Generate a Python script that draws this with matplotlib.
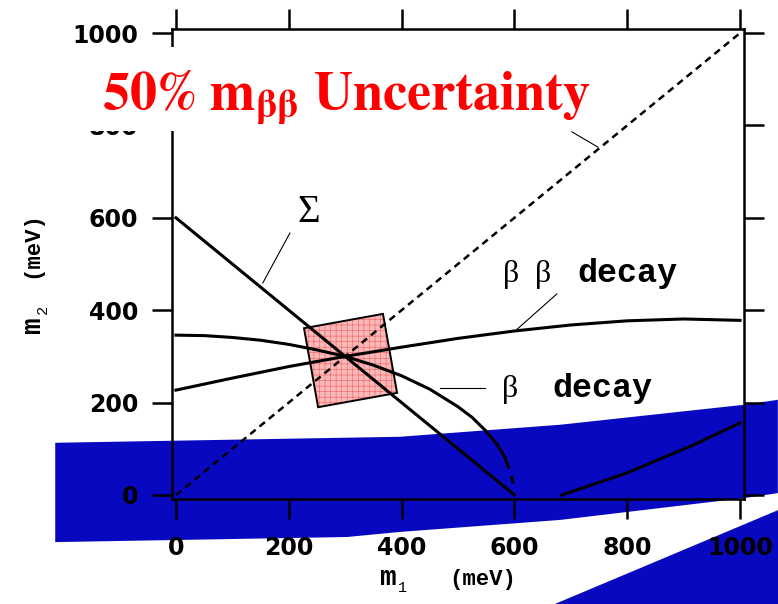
import matplotlib
matplotlib.use('Agg')
import matplotlib.pyplot as plt
from matplotlib.patches import Polygon, Rectangle

plt.rcParams['hatch.linewidth'] = 0.4

# constraint curves, all in meV
sigma_m1 = [0, 600]
sigma_m2 = [600, 0]
diag_m = [0, 1000]
beta_m1 = [0, 50, 100, 150, 200, 250, 300, 350, 400, 450, 500, 525, 550, 570, 583]
beta_m2 = [346, 345, 341, 335, 326, 314, 300, 281, 258, 229, 191, 168, 138, 108, 82]
beta_tail_m1 = [583, 592, 598]
beta_tail_m2 = [82, 52, 25]
bb_m1 = [0, 100, 200, 300, 400, 500, 600, 700, 800, 900, 1000]
bb_m2 = [227, 253, 278, 300, 320, 339, 355, 368, 377, 381, 378]
bb2_m1 = [684, 800, 917, 1000]
bb2_m2 = [0, 48, 108, 156]

# uncertainty box around (300, 300)
box_m1 = [227, 367, 392, 252]
box_m2 = [361, 392, 221, 190]

# blue bands (overlay)
band_m1 = [-214, 303, 397, 681, 1005, 1067]
band_top = [113, 124, 126, 152, 195, 206]
band_bot = [-102, -91, -80, -54, -7, 4]
wedge_m1 = [660, 1100, 1100, 660]
wedge_m2 = [-242, -16, -320, -320]

ticks = [0, 200, 400, 600, 800, 1000]

# annotation leaders
leaders = [((154, 459), (202, 567)),
           ((605, 359), (675, 435)),
           ((468, 232), (548, 232)),
           ((702, 786), (748, 753))]

W, H = 778, 604
fig = plt.figure(figsize=(W / 100, H / 100), dpi=100)
ax = fig.add_axes([172/W, 1 - 499/H, 572/W, 470/H])

blue = '#0808c0'
ax.add_patch(Polygon(list(zip(band_m1, band_top)) + list(zip(band_m1[::-1], band_bot[::-1])),
                     closed=True, facecolor=blue, edgecolor='none', clip_on=False, zorder=0.5))
ax.add_patch(Polygon(list(zip(wedge_m1, wedge_m2)), closed=True, facecolor=blue,
                     edgecolor='none', clip_on=False, zorder=0.5))

# uncertainty square
ax.add_patch(Polygon(list(zip(box_m1, box_m2)), closed=True, facecolor='#fbb8b8',
                     edgecolor='#f06060', hatch='+++', lw=0, zorder=1))
ax.add_patch(Polygon(list(zip(box_m1, box_m2)), closed=True, facecolor='none',
                     edgecolor='black', lw=1.4, zorder=1.1))

ax.plot(diag_m, diag_m, color='black', lw=1.8, ls=(0, (2.8, 2)), zorder=2)
ax.plot(sigma_m1, sigma_m2, color='black', lw=2.2, zorder=2)
ax.plot(beta_m1, beta_m2, color='black', lw=2.2, zorder=2)
ax.plot(beta_tail_m1, beta_tail_m2, color='black', lw=2.2, ls=(0, (4, 2.5)), zorder=2)
ax.plot(bb_m1, bb_m2, color='black', lw=2.2, zorder=2)
ax.plot(bb2_m1, bb2_m2, color='black', lw=2.2, zorder=2)

for (x1, y1), (x2, y2) in leaders:
    ax.plot([x1, x2], [y1, y2], color='black', lw=0.8, zorder=2)

serif = 'Liberation Serif'
mono = 'Liberation Mono'
ax.text(216, 591, '\u03a3', family=serif, fontsize=28, ha='left', va='baseline')
ax.text(580, 461, '\u03b2', family=serif, fontsize=23, ha='left', va='baseline')
ax.text(636, 461, '\u03b2', family=serif, fontsize=23, ha='left', va='baseline')
ax.text(711, 461, 'decay', family=mono, fontweight='bold', fontsize=24, ha='left', va='baseline')
ax.text(578, 212, '\u03b2', family=serif, fontsize=23, ha='left', va='baseline')
ax.text(667, 212, 'decay', family=mono, fontweight='bold', fontsize=24, ha='left', va='baseline')

ax.set_xlim(-7, 1007)
ax.set_ylim(-8.7, 1008.7)
ax.set_xticks(ticks)
ax.set_yticks(ticks)
ax.tick_params(direction='out', length=14.4, width=1.8, top=True, right=True,
               labelsize=17, colors='black')
ax.tick_params(axis='x', pad=12)
ax.tick_params(axis='y', pad=10)
for lab in ax.get_xticklabels() + ax.get_yticklabels():
    lab.set_fontweight('bold')
for sp in ax.spines.values():
    sp.set_linewidth(1.8)

# axis titles: m with subscript, then unit
fig.text(379/W, 1 - 585/H, 'm', family=mono, fontweight='bold', fontsize=20, va='baseline')
fig.text(398/W, 1 - 592/H, '1', family=mono, fontsize=11, va='baseline')
fig.text(449/W, 1 - 585/H, '(meV)', family=mono, fontweight='bold', fontsize=16, va='baseline')
fig.text(40/W, 1 - 334/H, 'm', family=mono, fontweight='bold', fontsize=20, va='baseline',
         rotation=90, rotation_mode='anchor')
fig.text(47/W, 1 - 314/H, '2', family=mono, fontsize=11, va='baseline',
         rotation=90, rotation_mode='anchor')
fig.text(37/W, 1 - 278/H, '(meV)', family=mono, fontweight='bold', fontsize=16, va='baseline',
         rotation=90, rotation_mode='anchor')

# white panel behind the headline
fig.patches.append(Rectangle((80/W, 1 - 131/H), 515/W, 84/H, transform=fig.transFigure,
                             facecolor='white', edgecolor='none', zorder=5))
fig.text(102/W, 1 - 110/H, r'$\mathbf{50\%\ m_{\beta\beta}\ Uncertainty}$',
         math_fontfamily='stix', color='red', fontsize=39, ha='left', va='baseline', zorder=6)

fig.savefig('out.png', dpi=100)
